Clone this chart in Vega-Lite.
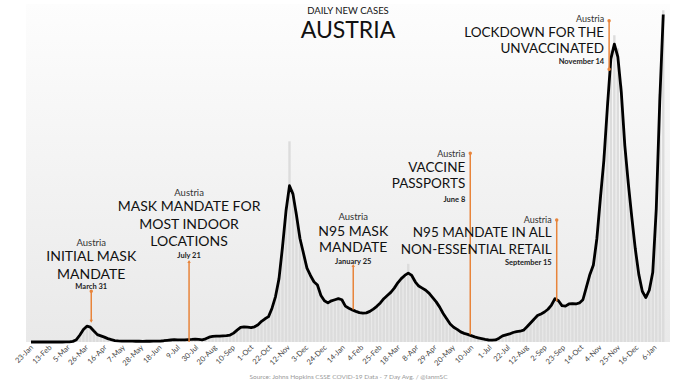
{
  "$schema": "https://vega.github.io/schema/vega-lite/v6.json",
  "width": 644,
  "height": 338,
  "autosize": {"type": "none"},
  "padding": {"left": 26, "top": 4, "right": 10, "bottom": 41},
  "background": "#ffffff",
  "config": {
    "font": "Lato",
    "view": {"stroke": null, "fill": {"gradient": "linear", "x1": 0, "y1": 0, "x2": 0, "y2": 1, "stops": [{"offset": 0, "color": "#fdfdfd"}, {"offset": 1, "color": "#e9e9e9"}]}}
  },
  "title": {"text": "DAILY NEW CASES", "subtitle": "AUSTRIA", "anchor": "middle", "frame": "group", "font": "Lato", "subtitleFont": "Lato", "fontSize": 9.5, "fontWeight": "normal", "color": "#111", "subtitleFontSize": 23, "subtitleColor": "#111", "subtitlePadding": 5, "offset": -39},
  "datasets": {
    "main": [
      {"d":"2020/01/22","a":0,"b":0},{"d":"2020/01/26","a":0,"b":0},{"d":"2020/01/30","a":0,"b":0},{"d":"2020/02/03","a":0,"b":0},{"d":"2020/02/07","a":0,"b":0},{"d":"2020/02/11","a":0,"b":0},{"d":"2020/02/15","a":0,"b":0},{"d":"2020/02/19","a":0,"b":0},{"d":"2020/02/23","a":0,"b":0},{"d":"2020/02/27","a":0,"b":0},
      {"d":"2020/03/02","a":3,"b":3},{"d":"2020/03/06","a":8,"b":9},{"d":"2020/03/10","a":30,"b":35},{"d":"2020/03/14","a":110,"b":130},{"d":"2020/03/18","a":330,"b":350},{"d":"2020/03/22","a":590,"b":610},{"d":"2020/03/26","a":750,"b":780},{"d":"2020/03/30","a":700,"b":680},
      {"d":"2020/04/03","a":520,"b":510},{"d":"2020/04/07","a":350,"b":340},{"d":"2020/04/11","a":290,"b":295},{"d":"2020/04/15","a":230,"b":220},{"d":"2020/04/19","a":160,"b":155},{"d":"2020/04/23","a":110,"b":105},{"d":"2020/04/27","a":70,"b":70},
      {"d":"2020/05/01","a":55,"b":57},{"d":"2020/05/05","a":45,"b":47},{"d":"2020/05/09","a":40,"b":42},{"d":"2020/05/13","a":40,"b":40},{"d":"2020/05/17","a":38,"b":39},{"d":"2020/05/21","a":35,"b":37},{"d":"2020/05/25","a":35,"b":35},{"d":"2020/05/29","a":33,"b":34},
      {"d":"2020/06/02","a":35,"b":37},{"d":"2020/06/06","a":35,"b":37},{"d":"2020/06/10","a":40,"b":42},{"d":"2020/06/14","a":40,"b":42},{"d":"2020/06/18","a":45,"b":47},{"d":"2020/06/22","a":60,"b":63},{"d":"2020/06/26","a":80,"b":83},{"d":"2020/06/30","a":95,"b":98},
      {"d":"2020/07/04","a":110,"b":113},{"d":"2020/07/08","a":100,"b":103},{"d":"2020/07/12","a":100,"b":103},{"d":"2020/07/16","a":105,"b":108},{"d":"2020/07/20","a":115,"b":118},{"d":"2020/07/24","a":120,"b":124},{"d":"2020/07/28","a":130,"b":134},
      {"d":"2020/08/01","a":120,"b":124},{"d":"2020/08/05","a":100,"b":103},{"d":"2020/08/09","a":150,"b":155},{"d":"2020/08/13","a":230,"b":237},{"d":"2020/08/17","a":270,"b":278},{"d":"2020/08/21","a":280,"b":288},{"d":"2020/08/25","a":275,"b":283},{"d":"2020/08/29","a":290,"b":299},
      {"d":"2020/09/02","a":300,"b":309},{"d":"2020/09/06","a":330,"b":340},{"d":"2020/09/10","a":420,"b":433},{"d":"2020/09/14","a":560,"b":577},{"d":"2020/09/18","a":690,"b":711},{"d":"2020/09/22","a":720,"b":742},{"d":"2020/09/26","a":700,"b":721},{"d":"2020/09/30","a":680,"b":700},
      {"d":"2020/10/04","a":720,"b":742},{"d":"2020/10/08","a":820,"b":845},{"d":"2020/10/12","a":980,"b":1010},{"d":"2020/10/16","a":1100,"b":1133},{"d":"2020/10/20","a":1200,"b":1236},{"d":"2020/10/24","a":1600,"b":1650},{"d":"2020/10/28","a":2150,"b":2215},
      {"d":"2020/11/01","a":3000,"b":3090},{"d":"2020/11/05","a":4500,"b":4635},{"d":"2020/11/09","a":6200,"b":6390},{"d":"2020/11/13","a":7400,"b":9500},{"d":"2020/11/17","a":7000,"b":7210},{"d":"2020/11/21","a":6000,"b":6180},{"d":"2020/11/25","a":4900,"b":5050},{"d":"2020/11/29","a":4200,"b":4330},
      {"d":"2020/12/03","a":3500,"b":3600},{"d":"2020/12/07","a":3150,"b":3245},{"d":"2020/12/11","a":2850,"b":2935},{"d":"2020/12/15","a":2700,"b":2780},{"d":"2020/12/19","a":2200,"b":2265},{"d":"2020/12/23","a":1950,"b":2010},{"d":"2020/12/27","a":1850,"b":1905},{"d":"2020/12/31","a":1950,"b":2010},
      {"d":"2021/01/04","a":2000,"b":2060},{"d":"2021/01/08","a":2050,"b":2110},{"d":"2021/01/12","a":2000,"b":2060},{"d":"2021/01/16","a":1700,"b":1750},{"d":"2021/01/20","a":1600,"b":1650},{"d":"2021/01/24","a":1520,"b":1565},{"d":"2021/01/28","a":1450,"b":1495},
      {"d":"2021/02/01","a":1390,"b":1430},{"d":"2021/02/05","a":1370,"b":1410},{"d":"2021/02/09","a":1380,"b":1420},{"d":"2021/02/13","a":1450,"b":1495},{"d":"2021/02/17","a":1560,"b":1605},{"d":"2021/02/21","a":1690,"b":1740},{"d":"2021/02/25","a":1850,"b":1905},
      {"d":"2021/03/01","a":2050,"b":2110},{"d":"2021/03/05","a":2200,"b":2265},{"d":"2021/03/09","a":2350,"b":2420},{"d":"2021/03/13","a":2550,"b":2625},{"d":"2021/03/17","a":2800,"b":2885},{"d":"2021/03/21","a":3000,"b":3090},{"d":"2021/03/25","a":3150,"b":3245},{"d":"2021/03/29","a":3260,"b":3700},
      {"d":"2021/04/02","a":3150,"b":3245},{"d":"2021/04/06","a":2850,"b":2935},{"d":"2021/04/10","a":2650,"b":2730},{"d":"2021/04/14","a":2550,"b":2625},{"d":"2021/04/18","a":2450,"b":2525},{"d":"2021/04/22","a":2300,"b":2370},{"d":"2021/04/26","a":2100,"b":2165},{"d":"2021/04/30","a":1900,"b":1955},
      {"d":"2021/05/04","a":1650,"b":1700},{"d":"2021/05/08","a":1350,"b":1390},{"d":"2021/05/12","a":1100,"b":1133},{"d":"2021/05/16","a":850,"b":875},{"d":"2021/05/20","a":700,"b":721},{"d":"2021/05/24","a":600,"b":618},{"d":"2021/05/28","a":480,"b":494},
      {"d":"2021/06/01","a":410,"b":422},{"d":"2021/06/05","a":360,"b":371},{"d":"2021/06/09","a":300,"b":309},{"d":"2021/06/13","a":240,"b":247},{"d":"2021/06/17","a":200,"b":206},{"d":"2021/06/21","a":160,"b":165},{"d":"2021/06/25","a":120,"b":124},{"d":"2021/06/29","a":95,"b":98},
      {"d":"2021/07/03","a":85,"b":88},{"d":"2021/07/07","a":100,"b":103},{"d":"2021/07/11","a":180,"b":185},{"d":"2021/07/15","a":290,"b":299},{"d":"2021/07/19","a":340,"b":350},{"d":"2021/07/23","a":380,"b":391},{"d":"2021/07/27","a":450,"b":464},{"d":"2021/07/31","a":490,"b":505},
      {"d":"2021/08/04","a":510,"b":525},{"d":"2021/08/08","a":560,"b":577},{"d":"2021/08/12","a":720,"b":742},{"d":"2021/08/16","a":900,"b":927},{"d":"2021/08/20","a":1080,"b":1112},{"d":"2021/08/24","a":1250,"b":1288},{"d":"2021/08/28","a":1330,"b":1370},
      {"d":"2021/09/01","a":1420,"b":1463},{"d":"2021/09/05","a":1550,"b":1597},{"d":"2021/09/09","a":1750,"b":1803},{"d":"2021/09/13","a":2050,"b":2112},{"d":"2021/09/17","a":1950,"b":2009},{"d":"2021/09/21","a":1720,"b":1772},{"d":"2021/09/25","a":1700,"b":1751},{"d":"2021/09/29","a":1800,"b":1854},
      {"d":"2021/10/03","a":1820,"b":1875},{"d":"2021/10/07","a":1800,"b":1854},{"d":"2021/10/11","a":1850,"b":1906},{"d":"2021/10/15","a":2000,"b":2060},{"d":"2021/10/19","a":2600,"b":2678},{"d":"2021/10/23","a":3200,"b":3296},{"d":"2021/10/27","a":3650,"b":3760},{"d":"2021/10/31","a":4900,"b":5047},
      {"d":"2021/11/04","a":6800,"b":7004},{"d":"2021/11/08","a":8600,"b":8858},{"d":"2021/11/12","a":11100,"b":11433},{"d":"2021/11/16","a":13400,"b":13802},{"d":"2021/11/20","a":14100,"b":14523},{"d":"2021/11/24","a":13500,"b":13905},{"d":"2021/11/28","a":11800,"b":12154},
      {"d":"2021/12/02","a":9300,"b":9579},{"d":"2021/12/06","a":7500,"b":7725},{"d":"2021/12/10","a":5900,"b":6077},{"d":"2021/12/14","a":4400,"b":4532},{"d":"2021/12/18","a":3200,"b":3296},{"d":"2021/12/22","a":2400,"b":2472},{"d":"2021/12/26","a":2100,"b":2163},{"d":"2021/12/30","a":2450,"b":2524},
      {"d":"2022/01/03","a":3300,"b":3399},{"d":"2022/01/07","a":6300,"b":6489},{"d":"2022/01/11","a":11400,"b":11742},{"d":"2022/01/15","a":15500,"b":15700}
    ],
    "rules": [
      {"d":"2020/03/31","v1":2400,"v2":980},
      {"d":"2020/07/21","v1":3811,"v2":0},
      {"d":"2021/01/25","v1":3620,"v2":1534},
      {"d":"2021/06/08","v1":8940,"v2":354},
      {"d":"2021/09/15","v1":5780,"v2":1925},
      {"d":"2021/11/14","v1":15210,"v2":12909}
    ],
    "ends": [
      {"d":"2020/03/31","v":980,"m":"down"},
      {"d":"2020/03/31","v":2400,"m":"dot"},
      {"d":"2020/07/21","v":3811,"m":"up"},
      {"d":"2021/01/25","v":3620,"m":"up"},
      {"d":"2021/06/08","v":8940,"m":"dot"},
      {"d":"2021/09/15","v":5780,"m":"dot"},
      {"d":"2021/11/14","v":15210,"m":"dot"},
      {"d":"2021/11/14","v":12909,"m":"dot"}
    ],
    "notes": [
      {"d":"2020/03/31","v":4710,"t":"Austria","k":"place","s":"c"},
      {"d":"2020/03/31","v":4036,"t":"INITIAL MASK","k":"head","s":"c"},
      {"d":"2020/03/31","v":3186,"t":"MANDATE","k":"head","s":"c"},
      {"d":"2020/03/31","v":2587,"t":"March 31","k":"date","s":"c"},
      {"d":"2020/07/21","v":7071,"t":"Austria","k":"place","s":"c"},
      {"d":"2020/07/21","v":6381,"t":"MASK MANDATE FOR","k":"head","s":"c"},
      {"d":"2020/07/21","v":5546,"t":"MOST INDOOR","k":"head","s":"c"},
      {"d":"2020/07/21","v":4711,"t":"LOCATIONS","k":"head","s":"c"},
      {"d":"2020/07/21","v":4083,"t":"July 21","k":"date","s":"c"},
      {"d":"2021/01/25","v":5938,"t":"Austria","k":"place","s":"c"},
      {"d":"2021/01/25","v":5230,"t":"N95 MASK","k":"head","s":"c"},
      {"d":"2021/01/25","v":4446,"t":"MANDATE","k":"head","s":"c"},
      {"d":"2021/01/25","v":3785,"t":"January 25","k":"date","s":"c"},
      {"d":"2021/06/08","v":8921,"t":"Austria","k":"place","s":"l"},
      {"d":"2021/06/08","v":8222,"t":"VACCINE","k":"head","s":"l"},
      {"d":"2021/06/08","v":7467,"t":"PASSPORTS","k":"head","s":"l"},
      {"d":"2021/06/08","v":6726,"t":"June 8","k":"date","s":"l"},
      {"d":"2021/09/15","v":5760,"t":"Austria","k":"place","s":"l"},
      {"d":"2021/09/15","v":5140,"t":"N95 MANDATE IN ALL","k":"head","s":"l"},
      {"d":"2021/09/15","v":4333,"t":"NON-ESSENTIAL RETAIL","k":"head","s":"l"},
      {"d":"2021/09/15","v":3738,"t":"September 15","k":"date","s":"l"},
      {"d":"2021/11/14","v":15290,"t":"Austria","k":"place","s":"l"},
      {"d":"2021/11/14","v":14630,"t":"LOCKDOWN FOR THE","k":"head","s":"l"},
      {"d":"2021/11/14","v":13867,"t":"UNVACCINATED","k":"head","s":"l"},
      {"d":"2021/11/14","v":13254,"t":"November 14","k":"date","s":"l"}
    ]
  },
  "encoding": {
    "x": {
      "field": "d", "type": "temporal",
      "scale": {"domain": [{"year":2020,"month":1,"date":22},{"year":2022,"month":1,"date":17}]},
      "axis": {
        "values": [
          {"year":2020,"month":1,"date":23},{"year":2020,"month":2,"date":13},{"year":2020,"month":3,"date":5},{"year":2020,"month":3,"date":26},{"year":2020,"month":4,"date":16},{"year":2020,"month":5,"date":7},{"year":2020,"month":5,"date":28},{"year":2020,"month":6,"date":18},{"year":2020,"month":7,"date":9},{"year":2020,"month":7,"date":30},{"year":2020,"month":8,"date":20},{"year":2020,"month":9,"date":10},{"year":2020,"month":10,"date":1},{"year":2020,"month":10,"date":22},{"year":2020,"month":11,"date":12},{"year":2020,"month":12,"date":3},{"year":2020,"month":12,"date":24},
          {"year":2021,"month":1,"date":14},{"year":2021,"month":2,"date":4},{"year":2021,"month":2,"date":25},{"year":2021,"month":3,"date":18},{"year":2021,"month":4,"date":8},{"year":2021,"month":4,"date":29},{"year":2021,"month":5,"date":20},{"year":2021,"month":6,"date":10},{"year":2021,"month":7,"date":1},{"year":2021,"month":7,"date":22},{"year":2021,"month":8,"date":12},{"year":2021,"month":9,"date":2},{"year":2021,"month":9,"date":23},{"year":2021,"month":10,"date":14},{"year":2021,"month":11,"date":4},{"year":2021,"month":11,"date":25},{"year":2021,"month":12,"date":16},
          {"year":2022,"month":1,"date":6}
        ],
        "format": "%-d-%b",
        "labelAngle": -45, "labelAlign": "right", "labelBaseline": "middle",
        "labelFontSize": 7.5, "labelColor": "#444", "labelPadding": 4,
        "labelOverlap": false, "labelFlush": false,
        "ticks": false, "domain": false, "grid": false,
        "title": "Source: Johns Hopkins CSSE COVID-19 Data - 7 Day Avg. / @IanmSC",
        "titleFontSize": 6.5, "titleColor": "#999", "titleFontWeight": "normal", "titlePadding": 7
      }
    }
  },
  "layer": [
    {
      "data": {"name": "main"},
      "mark": {"type": "bar", "color": "#dcdcdc", "size": 2.4},
      "encoding": {
        "y": {"field": "b", "type": "quantitative", "scale": {"domain": [0, 16000], "nice": false},
          "axis": {"values": [0,1000,2000,3000,4000,5000,6000,7000,8000,9000,10000,11000,12000,13000,14000,15000,16000], "format": "d", "labelFontSize": 7, "labelColor": "#444", "ticks": false, "domain": false, "grid": false, "labelPadding": 6, "title": null}}
      }
    },
    {
      "data": {"name": "main"},
      "mark": {"type": "line", "color": "#000000", "strokeWidth": 2.8, "strokeJoin": "round"},
      "encoding": {"y": {"field": "a", "type": "quantitative", "axis": null}}
    },
    {
      "data": {"name": "rules"},
      "mark": {"type": "rule", "color": "#e8843a", "strokeWidth": 1.5},
      "encoding": {"y": {"field": "v1", "type": "quantitative", "axis": null}, "y2": {"field": "v2"}}
    },
    {
      "data": {"name": "ends"},
      "mark": {"type": "point", "filled": true, "color": "#e8843a", "size": 12, "opacity": 1},
      "encoding": {
        "y": {"field": "v", "type": "quantitative", "axis": null},
        "shape": {"field": "m", "type": "nominal", "scale": {"domain": ["up", "down", "dot"], "range": ["triangle-up", "triangle-down", "circle"]}, "legend": null}
      }
    },
    {
      "data": {"name": "notes"},
      "transform": [{"filter": "datum.k == 'place' && datum.s == 'c'"}],
      "mark": {"type": "text", "fontSize": 9.5, "color": "#333", "align": "center", "baseline": "middle"},
      "encoding": {"y": {"field": "v", "type": "quantitative", "axis": null}, "text": {"field": "t"}}
    },
    {
      "data": {"name": "notes"},
      "transform": [{"filter": "datum.k == 'head' && datum.s == 'c'"}],
      "mark": {"type": "text", "fontSize": 14, "color": "#111", "align": "center", "baseline": "middle"},
      "encoding": {"y": {"field": "v", "type": "quantitative", "axis": null}, "text": {"field": "t"}}
    },
    {
      "data": {"name": "notes"},
      "transform": [{"filter": "datum.k == 'date' && datum.s == 'c'"}],
      "mark": {"type": "text", "fontSize": 7.5, "fontWeight": "bold", "color": "#222", "align": "center", "baseline": "middle"},
      "encoding": {"y": {"field": "v", "type": "quantitative", "axis": null}, "text": {"field": "t"}}
    },
    {
      "data": {"name": "notes"},
      "transform": [{"filter": "datum.k == 'place' && datum.s == 'l'"}],
      "mark": {"type": "text", "fontSize": 9, "color": "#333", "align": "right", "baseline": "middle", "dx": -5},
      "encoding": {"y": {"field": "v", "type": "quantitative", "axis": null}, "text": {"field": "t"}}
    },
    {
      "data": {"name": "notes"},
      "transform": [{"filter": "datum.k == 'head' && datum.s == 'l'"}],
      "mark": {"type": "text", "fontSize": 13.5, "color": "#111", "align": "right", "baseline": "middle", "dx": -5},
      "encoding": {"y": {"field": "v", "type": "quantitative", "axis": null}, "text": {"field": "t"}}
    },
    {
      "data": {"name": "notes"},
      "transform": [{"filter": "datum.k == 'date' && datum.s == 'l'"}],
      "mark": {"type": "text", "fontSize": 7.5, "fontWeight": "bold", "color": "#222", "align": "right", "baseline": "middle", "dx": -5},
      "encoding": {"y": {"field": "v", "type": "quantitative", "axis": null}, "text": {"field": "t"}}
    }
  ]
}
